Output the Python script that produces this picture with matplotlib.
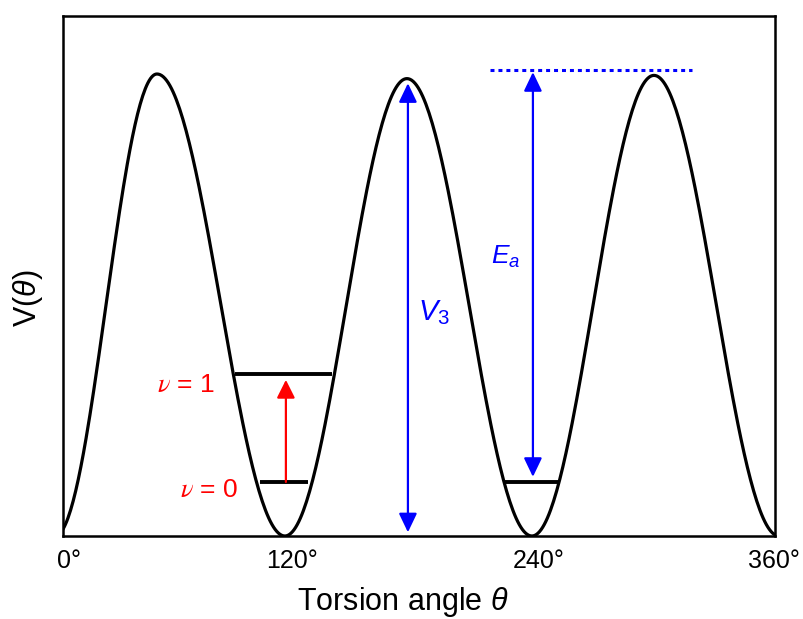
import matplotlib
matplotlib.use("Agg")
import matplotlib.pyplot as plt
import numpy as np

plt.rcParams['font.family'] = ['Liberation Sans', 'DejaVu Sans']
plt.rcParams['mathtext.fontset'] = 'custom'
plt.rcParams['mathtext.rm'] = 'Liberation Sans'
plt.rcParams['mathtext.it'] = 'Liberation Sans:italic'

# extrema of the torsional potential (deg, relative V)
ext_theta = [-4, 47.5, 112.2, 173.9, 237.1, 298.8, 362]
ext_v = [0.0, 1.0, 0.0, 0.99, 0.0, 0.997, 0.0]

# energy levels: (theta start, theta end, V)
level_v0_a = [99.6, 123.9, 0.117]
level_v1 = [87.0, 136.0, 0.351]
level_v0_b = [223.5, 251.3, 0.117]

# arrows: (theta, V from, V to)
red_arrow = [112.7, 0.117, 0.338]
v3_arrow = [174.4, 0.008, 0.98]
ea_arrow = [237.6, 0.128, 1.004]
barrier_line = [215.9, 318.0, 1.009]

tick_pos = [3, 115.8, 240.6, 359.5]
tick_labels = ['0°', '120°', '240°', '360°']

# smooth curve through the extrema (half-cosine between each pair)
theta = []
vals = []
for i in range(len(ext_theta) - 1):
    s = np.linspace(0, 1, 80)
    t0, t1 = ext_theta[i], ext_theta[i + 1]
    v0, v1 = ext_v[i], ext_v[i + 1]
    theta.append(t0 + (t1 - t0) * s)
    vals.append(v0 + (v1 - v0) * (1 - np.cos(np.pi * s)) / 2)
theta = np.concatenate(theta)
vals = np.concatenate(vals)

fig = plt.figure(figsize=(8.04, 6.19), dpi=100)
ax = fig.add_axes([63 / 804, 83 / 619, 712 / 804, 520 / 619])

ax.plot(theta, vals, color='black', lw=2.3, solid_capstyle='butt')

for lv in [level_v0_a, level_v1, level_v0_b]:
    ax.plot([lv[0], lv[1]], [lv[2], lv[2]], color='black', lw=2.8, solid_capstyle='butt')

ax.plot([barrier_line[0], barrier_line[1]], [barrier_line[2]] * 2, color='blue',
        lw=2.2, dashes=(1.3, 1.3))

ax.annotate('', xy=(red_arrow[0], red_arrow[2]), xytext=(red_arrow[0], red_arrow[1]),
            arrowprops=dict(arrowstyle='-|>,head_length=1.1,head_width=0.55',
                            color='red', lw=1.6, shrinkA=0, shrinkB=0, mutation_scale=10))
ax.annotate('', xy=(v3_arrow[0], v3_arrow[2]), xytext=(v3_arrow[0], v3_arrow[1]),
            arrowprops=dict(arrowstyle='<|-|>,head_length=1.15,head_width=0.55',
                            color='blue', lw=1.6, shrinkA=0, shrinkB=0, mutation_scale=10))
ax.annotate('', xy=(ea_arrow[0], ea_arrow[2]), xytext=(ea_arrow[0], ea_arrow[1]),
            arrowprops=dict(arrowstyle='<|-|>,head_length=1.15,head_width=0.55',
                            color='blue', lw=1.6, shrinkA=0, shrinkB=0, mutation_scale=10))

# labels
ax.text(77.0, 0.312, r'$\nu$ = 1', color='red', fontsize=19, ha='right', va='baseline',
        math_fontfamily='stix')
ax.text(88.5, 0.084, r'$\nu$ = 0', color='red', fontsize=19, ha='right', va='baseline',
        math_fontfamily='stix')
ax.text(179.5, 0.468, r'$V_3$', color='blue', fontsize=21, ha='left', va='baseline')
ax.text(216.5, 0.59, r'$E_a$', color='blue', fontsize=19, ha='left', va='baseline')

ax.set_xlim(0, 360)
ax.set_ylim(0, 520 / 462)
ax.set_xticks(tick_pos, tick_labels)
ax.set_yticks([])
ax.tick_params(axis='x', length=0, pad=9, labelsize=18)
for sp in ax.spines.values():
    sp.set_linewidth(1.8)

fig.text(403 / 804, 1 - 610 / 619, r'Torsion angle $\theta$', fontsize=22,
         ha='center', va='baseline')
fig.text(28 / 804, 1 - 298 / 619, r'V($\theta$)', fontsize=22, rotation=90,
         ha='center', va='center')

fig.savefig('out.png', dpi=100)
